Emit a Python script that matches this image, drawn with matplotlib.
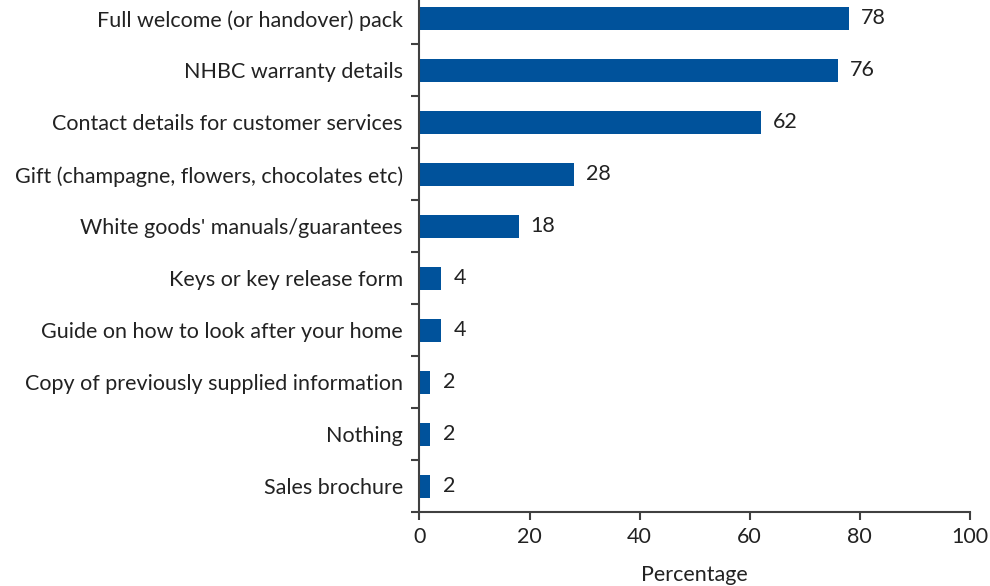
import matplotlib.pyplot as plt
import numpy as np

plt.rcParams['font.family'] = ['Lato', 'DejaVu Sans']

items = ["Full welcome (or handover) pack",
         "NHBC warranty details",
         "Contact details for customer services",
         "Gift (champagne, flowers, chocolates etc)",
         "White goods' manuals/guarantees",
         "Keys or key release form",
         "Guide on how to look after your home",
         "Copy of previously supplied information",
         "Nothing",
         "Sales brochure"]
pct = [78, 76, 62, 28, 18, 4, 4, 2, 2, 2]

bar_col = '#00529B'
axis_col = '#404040'
txt_col = '#222222'
fs = 15.5

fig = plt.figure(figsize=(9.9, 5.86), dpi=100)
# top of the axes runs slightly past the figure edge
ax = fig.add_axes([0.4237, 0.126, 0.556, 0.887])

ypos = np.arange(len(items))
ax.barh(ypos, pct, height=0.44, color=bar_col)
for y, v in zip(ypos, pct):
    ax.text(v + 2.2, y, str(v), va='center', ha='left', fontsize=fs, color=txt_col)

ax.set_ylim(len(items) - 0.5, -0.5)
ax.set_xlim(0, 100)
ax.set_xticks(range(0, 101, 20))
ax.set_yticks(ypos)
ax.set_yticklabels(items)
ax.set_yticks(np.arange(-0.5, len(items), 1), minor=True)
ax.tick_params(axis='y', which='major', length=0, pad=12, labelsize=fs, labelcolor=txt_col)
ax.tick_params(axis='y', which='minor', length=6, width=1.5, color=axis_col, direction='out')
ax.tick_params(axis='x', length=6, width=1.5, color=axis_col, labelsize=fs, labelcolor=txt_col, pad=5)

for s in ['top', 'right']:
    ax.spines[s].set_visible(False)
for s in ['left', 'bottom']:
    ax.spines[s].set_color(axis_col)
    ax.spines[s].set_linewidth(1.5)

ax.set_xlabel('Percentage', fontsize=fs, color=txt_col, labelpad=13)

fig.savefig('out.png', dpi=100)
